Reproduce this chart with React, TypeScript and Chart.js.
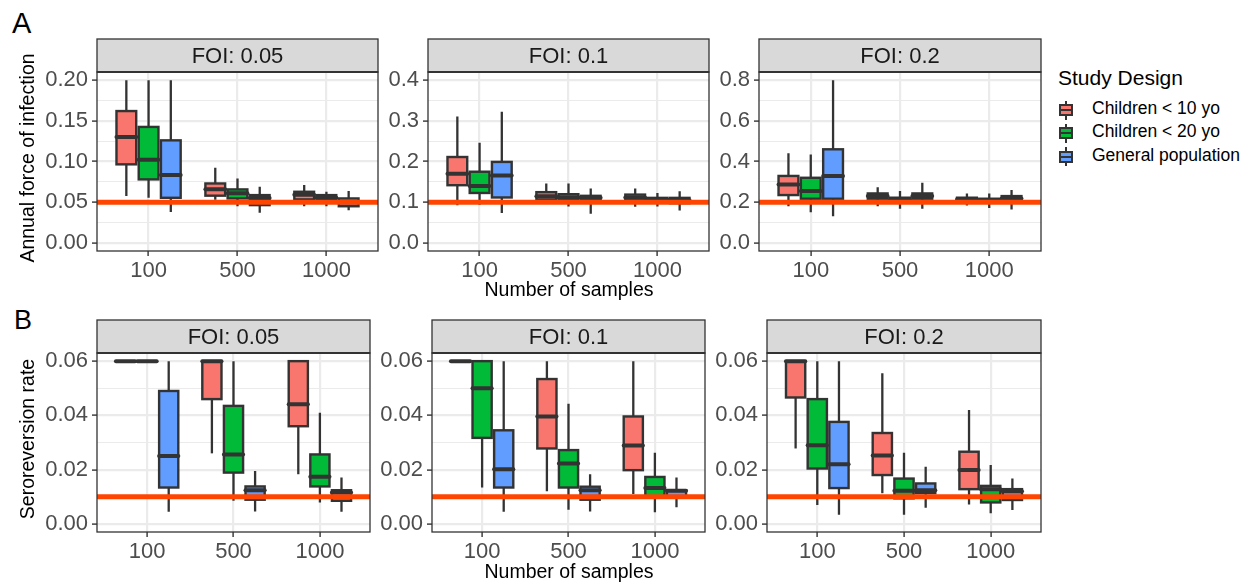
import React, { useEffect, useRef } from 'react';
import { Chart, registerables } from 'chart.js';

Chart.register(...registerables);

// ---------------- data ----------------
const categories = ['100', '500', '1000'];
const seriesNames = ['Children < 10 yo', 'Children < 20 yo', 'General population'];
const seriesColors = ['#F8766D', '#00BA38', '#619CFF'];

// five-number summaries [low whisker, q1, median, q3, high whisker] for 100 / 500 / 1000 samples
// Panel A: annual force of infection
const forceFoi005Child10 = [[0.0575, 0.0965, 0.130, 0.162, 0.200], [0.053, 0.058, 0.066, 0.073, 0.0924], [0.045, 0.0534, 0.059, 0.0628, 0.071]];
const forceFoi005Child20 = [[0.0554, 0.078, 0.102, 0.1425, 0.200], [0.045, 0.0546, 0.061, 0.0657, 0.079], [0.045, 0.0526, 0.0554, 0.0587, 0.0628]];
const forceFoi005General = [[0.038, 0.0554, 0.0834, 0.126, 0.200], [0.037, 0.0464, 0.055, 0.0587, 0.069], [0.040, 0.045, 0.050, 0.0546, 0.0637]];

const forceFoi01Child10 = [[0.093, 0.142, 0.170, 0.211, 0.310], [0.098, 0.107, 0.115, 0.125, 0.146], [0.089, 0.105, 0.112, 0.119, 0.134]];
const forceFoi01Child20 = [[0.094, 0.123, 0.140, 0.175, 0.246], [0.090, 0.105, 0.112, 0.120, 0.146], [0.090, 0.101, 0.107, 0.111, 0.123]];
const forceFoi01General = [[0.074, 0.112, 0.166, 0.199, 0.322], [0.072, 0.105, 0.111, 0.116, 0.134], [0.080, 0.098, 0.105, 0.111, 0.127]];

const forceFoi02Child10 = [[0.180, 0.235, 0.287, 0.329, 0.440], [0.180, 0.217, 0.230, 0.243, 0.274], [0.184, 0.205, 0.214, 0.222, 0.243]];
const forceFoi02Child20 = [[0.151, 0.217, 0.255, 0.320, 0.435], [0.168, 0.205, 0.214, 0.222, 0.255], [0.172, 0.200, 0.210, 0.217, 0.243]];
const forceFoi02General = [[0.131, 0.217, 0.329, 0.460, 0.800], [0.168, 0.217, 0.230, 0.243, 0.296], [0.164, 0.205, 0.218, 0.230, 0.260]];

// Panel B: seroreversion rate
const seroFoi005Child10 = [[0.06, 0.06, 0.06, 0.06, 0.06], [0.026, 0.046, 0.06, 0.06, 0.06], [0.0183, 0.036, 0.0441, 0.06, 0.06]];
const seroFoi005Child20 = [[0.06, 0.06, 0.06, 0.06, 0.06], [0.0085, 0.0189, 0.0256, 0.0435, 0.06], [0.0079, 0.0138, 0.0174, 0.0256, 0.041]];
const seroFoi005General = [[0.0045, 0.0134, 0.025, 0.049, 0.06], [0.0046, 0.0089, 0.0124, 0.0138, 0.0195], [0.0045, 0.0085, 0.0116, 0.0124, 0.0171]];

const seroFoi01Child10 = [[0.06, 0.06, 0.06, 0.06, 0.06], [0.012, 0.0278, 0.0396, 0.0534, 0.06], [0.011, 0.0198, 0.0289, 0.0396, 0.06]];
const seroFoi01Child20 = [[0.0134, 0.0317, 0.05, 0.06, 0.06], [0.0052, 0.0134, 0.0223, 0.0272, 0.0443], [0.0043, 0.0098, 0.0132, 0.0173, 0.0262]];
const seroFoi01General = [[0.0045, 0.0134, 0.0201, 0.0345, 0.06], [0.0046, 0.0089, 0.0124, 0.0137, 0.0183], [0.0061, 0.0098, 0.0122, 0.0124, 0.0171]];

const seroFoi02Child10 = [[0.0278, 0.0466, 0.06, 0.06, 0.06], [0.0113, 0.018, 0.0252, 0.0335, 0.0555], [0.0071, 0.0128, 0.0199, 0.0266, 0.042]];
const seroFoi02Child20 = [[0.007, 0.0204, 0.029, 0.046, 0.06], [0.0034, 0.0094, 0.0122, 0.0167, 0.0262], [0.0039, 0.0079, 0.0128, 0.014, 0.0217]];
const seroFoi02General = [[0.0034, 0.0132, 0.022, 0.0376, 0.06], [0.0059, 0.0113, 0.0124, 0.0149, 0.0211], [0.0051, 0.0088, 0.012, 0.0128, 0.0167]];

// reference (true) values drawn as horizontal lines
const trueFoi = [0.05, 0.1, 0.2];
const trueSeroreversion = 0.01;

// tick values and labels
const ticksForce005 = [0, 0.05, 0.1, 0.15, 0.2];
const labelsForce005 = ['0.00', '0.05', '0.10', '0.15', '0.20'];
const minorForce005 = [0.025, 0.075, 0.125, 0.175];
const ticksForce01 = [0, 0.1, 0.2, 0.3, 0.4];
const labelsForce01 = ['0.0', '0.1', '0.2', '0.3', '0.4'];
const minorForce01 = [0.05, 0.15, 0.25, 0.35];
const ticksForce02 = [0, 0.2, 0.4, 0.6, 0.8];
const labelsForce02 = ['0.0', '0.2', '0.4', '0.6', '0.8'];
const minorForce02 = [0.1, 0.3, 0.5, 0.7];
const ticksSero = [0, 0.02, 0.04, 0.06];
const labelsSero = ['0.00', '0.02', '0.04', '0.06'];
const minorSero = [0.01, 0.03, 0.05];

// ---------------- layout ----------------
const FONT = "'Liberation Sans', Arial, Helvetica, sans-serif";
const YW = 64; // y axis box width
const XH = 40; // x axis box height
const RP = 3; // right padding
const X_MIN = 0.42;
const X_MAX = 3.58;
const DODGE = 0.25;
const BOX_W = 0.222;

type Panel = {
  title: string;
  boxes: number[][][];
  refValue: number;
  yMin: number;
  yMax: number;
  yTicks: number[];
  yLabels: string[];
  yMinor: number[];
  left: number;
  right: number;
  stripTop: number;
  plotTop: number;
  plotBottom: number;
};

const rowA = { stripTop: 39, plotTop: 72, plotBottom: 251 };
const rowB = { stripTop: 320, plotTop: 353, plotBottom: 532 };

const panels: Panel[] = [
  { title: 'FOI: 0.05', boxes: [forceFoi005Child10, forceFoi005Child20, forceFoi005General], refValue: trueFoi[0], yMin: -0.01, yMax: 0.21, yTicks: ticksForce005, yLabels: labelsForce005, yMinor: minorForce005, left: 97, right: 378, ...rowA },
  { title: 'FOI: 0.1', boxes: [forceFoi01Child10, forceFoi01Child20, forceFoi01General], refValue: trueFoi[1], yMin: -0.019, yMax: 0.419, yTicks: ticksForce01, yLabels: labelsForce01, yMinor: minorForce01, left: 428, right: 709, ...rowA },
  { title: 'FOI: 0.2', boxes: [forceFoi02Child10, forceFoi02Child20, forceFoi02General], refValue: trueFoi[2], yMin: -0.04, yMax: 0.84, yTicks: ticksForce02, yLabels: labelsForce02, yMinor: minorForce02, left: 759, right: 1041, ...rowA },
  { title: 'FOI: 0.05', boxes: [seroFoi005Child10, seroFoi005Child20, seroFoi005General], refValue: trueSeroreversion, yMin: -0.003, yMax: 0.063, yTicks: ticksSero, yLabels: labelsSero, yMinor: minorSero, left: 97, right: 370, ...rowB },
  { title: 'FOI: 0.1', boxes: [seroFoi01Child10, seroFoi01Child20, seroFoi01General], refValue: trueSeroreversion, yMin: -0.003, yMax: 0.063, yTicks: ticksSero, yLabels: labelsSero, yMinor: minorSero, left: 432, right: 705, ...rowB },
  { title: 'FOI: 0.2', boxes: [seroFoi02Child10, seroFoi02Child20, seroFoi02General], refValue: trueSeroreversion, yMin: -0.003, yMax: 0.063, yTicks: ticksSero, yLabels: labelsSero, yMinor: minorSero, left: 767, right: 1041, ...rowB },
];

function PanelChart({ p }: { p: Panel }) {
  const ref = useRef<HTMLCanvasElement | null>(null);
  const canvasLeft = p.left - YW;
  const canvasTop = p.stripTop - 1;
  const width = YW + (p.right - p.left) + RP;
  const height = p.plotBottom - canvasTop + XH;

  useEffect(() => {
    if (!ref.current) return;
    const isMajor = (v: number) => p.yTicks.some((m) => Math.abs(m - v) < 1e-9);
    const stripTopPx = p.stripTop - canvasTop;

    const boxPlugin = {
      id: 'boxes',
      beforeDatasetsDraw(chart: any) {
        const { ctx, chartArea } = chart;
        const x = chart.scales.x;
        const y = chart.scales.y;
        const unit = x.getPixelForValue(1) - x.getPixelForValue(0);
        ctx.save();
        ctx.beginPath();
        ctx.rect(chartArea.left, chartArea.top, chartArea.right - chartArea.left, chartArea.bottom - chartArea.top);
        ctx.clip();
        p.boxes.forEach((series, si) => {
          series.forEach((b, ci) => {
            const cx = x.getPixelForValue(ci + 1 + (si - 1) * DODGE);
            const hw = (BOX_W * unit) / 2;
            const lo = y.getPixelForValue(b[0]);
            const q1 = y.getPixelForValue(b[1]);
            const med = y.getPixelForValue(b[2]);
            const q3 = y.getPixelForValue(b[3]);
            const hi = y.getPixelForValue(b[4]);
            ctx.strokeStyle = '#333333';
            ctx.lineCap = 'butt';
            ctx.lineWidth = 2.3;
            ctx.beginPath();
            ctx.moveTo(cx, q1);
            ctx.lineTo(cx, lo);
            ctx.moveTo(cx, q3);
            ctx.lineTo(cx, hi);
            ctx.stroke();
            ctx.fillStyle = seriesColors[si];
            ctx.fillRect(cx - hw, q3, 2 * hw, q1 - q3);
            ctx.lineWidth = 2.4;
            ctx.strokeRect(cx - hw, q3, 2 * hw, q1 - q3);
            ctx.lineWidth = 4;
            ctx.lineCap = 'round';
            ctx.beginPath();
            ctx.moveTo(cx - hw, med);
            ctx.lineTo(cx + hw, med);
            ctx.stroke();
          });
        });
        ctx.restore();
      },
      afterDraw(chart: any) {
        const { ctx, chartArea } = chart;
        const { left, right, top, bottom } = chartArea;
        ctx.save();
        ctx.strokeStyle = '#333333';
        ctx.lineWidth = 1.3;
        ctx.strokeRect(left, top, right - left, bottom - top);
        ctx.fillStyle = '#d9d9d9';
        ctx.fillRect(left, stripTopPx, right - left, top - stripTopPx);
        ctx.strokeRect(left, stripTopPx, right - left, top - stripTopPx);
        ctx.lineWidth = 2;
        ctx.beginPath();
        ctx.moveTo(left, top);
        ctx.lineTo(right, top);
        ctx.stroke();
        ctx.fillStyle = '#1a1a1a';
        ctx.font = `22px ${FONT}`;
        ctx.textAlign = 'center';
        ctx.textBaseline = 'middle';
        ctx.fillText(p.title, (left + right) / 2, (stripTopPx + top) / 2 + 1);
        ctx.restore();
      },
    };

    const chart = new Chart(ref.current, {
      type: 'scatter',
      data: {
        datasets: [
          {
            type: 'line',
            label: 'true value',
            data: [
              { x: X_MIN, y: p.refValue },
              { x: X_MAX, y: p.refValue },
            ],
            borderColor: '#FF4500',
            borderWidth: 5,
            pointRadius: 0,
            showLine: true,
            fill: false,
          } as any,
        ],
      },
      options: {
        responsive: false,
        animation: false,
        devicePixelRatio: 1,
        events: [],
        layout: { padding: { top: p.plotTop - canvasTop, right: RP, left: 0, bottom: 0 } },
        plugins: { legend: { display: false }, tooltip: { enabled: false }, title: { display: false } },
        scales: {
          x: {
            type: 'linear',
            min: X_MIN,
            max: X_MAX,
            bounds: 'data',
            afterBuildTicks: (s: any) => {
              s.ticks = categories.map((_, i) => ({ value: i + 1 }));
            },
            afterFit: (s: any) => {
              s.height = XH;
            },
            ticks: {
              callback: (v: any) => categories[Math.round(Number(v)) - 1] ?? '',
              font: { family: FONT, size: 22 },
              color: '#4d4d4d',
              maxRotation: 0,
              minRotation: 0,
              autoSkip: false,
              padding: 2,
            },
            grid: { color: '#ebebeb', lineWidth: 2.2, tickColor: '#333333', tickLength: 5, tickWidth: 1.4 },
            border: { display: false },
          },
          y: {
            type: 'linear',
            min: p.yMin,
            max: p.yMax,
            bounds: 'data',
            afterBuildTicks: (s: any) => {
              s.ticks = [...p.yTicks, ...p.yMinor].sort((a, b) => a - b).map((v) => ({ value: v }));
            },
            afterFit: (s: any) => {
              s.width = YW;
            },
            ticks: {
              callback: (v: any) => {
                const idx = p.yTicks.findIndex((m) => Math.abs(m - Number(v)) < 1e-9);
                return idx >= 0 ? p.yLabels[idx] : '';
              },
              font: { family: FONT, size: 22 },
              color: '#4d4d4d',
              autoSkip: false,
              padding: 4,
            },
            grid: {
              color: '#ebebeb',
              lineWidth: (c: any) => (c.tick && isMajor(c.tick.value) ? 2.2 : 1.1),
              tickColor: (c: any) => (c.tick && isMajor(c.tick.value) ? '#333333' : 'rgba(0,0,0,0)'),
              tickLength: 5,
              tickWidth: 1.4,
            },
            border: { display: false },
          },
        },
      } as any,
      plugins: [boxPlugin],
    });
    return () => chart.destroy();
  }, []);

  return (
    <canvas
      ref={ref}
      width={width}
      height={height}
      style={{ position: 'absolute', left: canvasLeft, top: canvasTop, width, height }}
    />
  );
}

function Text({ text, x, cy, size, color = '#000', center = false, rotate = false }: any) {
  return (
    <div
      style={{
        position: 'absolute',
        left: x,
        top: cy,
        transform: `${center || rotate ? 'translate(-50%, -50%)' : 'translateY(-50%)'}${rotate ? ' rotate(-90deg)' : ''}`,
        fontSize: size,
        lineHeight: 1,
        whiteSpace: 'nowrap',
        color,
        fontFamily: FONT,
      }}
    >
      {text}
    </div>
  );
}

function LegendKey({ color, cy }: { color: string; cy: number }) {
  return (
    <div style={{ position: 'absolute', left: 1058, top: cy - 11.5, width: 16, height: 23 }}>
      <div style={{ position: 'absolute', left: 7, top: 2, width: 2, height: 19, background: '#333' }} />
      <div
        style={{
          position: 'absolute',
          left: 1,
          top: 5.5,
          width: 14,
          height: 12,
          boxSizing: 'border-box',
          border: '2px solid #333',
          background: color,
        }}
      />
      <div style={{ position: 'absolute', left: 1, top: 10.5, width: 14, height: 2, background: '#333' }} />
    </div>
  );
}

export default function App() {
  const legendY = [110, 133.3, 156.7];
  return (
    <div style={{ position: 'absolute', left: 0, top: 0, width: 1253, height: 586, background: '#fff', overflow: 'hidden' }}>
      {panels.map((p, i) => (
        <PanelChart key={i} p={p} />
      ))}
      <Text text="A" x={12} cy={22.5} size={29} />
      <Text text="B" x={14} cy={320} size={27} />
      <Text text="Annual force of infection" x={28} cy={158} size={19.5} rotate />
      <Text text="Seroreversion rate" x={28} cy={439} size={19.5} rotate />
      <Text text="Number of samples" x={569} cy={290} size={19.5} center />
      <Text text="Number of samples" x={569} cy={572} size={19.5} center />
      <Text text="Study Design" x={1058} cy={76.5} size={21} />
      {seriesNames.map((n, i) => (
        <React.Fragment key={n}>
          <LegendKey color={seriesColors[i]} cy={legendY[i]} />
          <Text text={n} x={1092} cy={legendY[i] - 1} size={17.5} />
        </React.Fragment>
      ))}
    </div>
  );
}
